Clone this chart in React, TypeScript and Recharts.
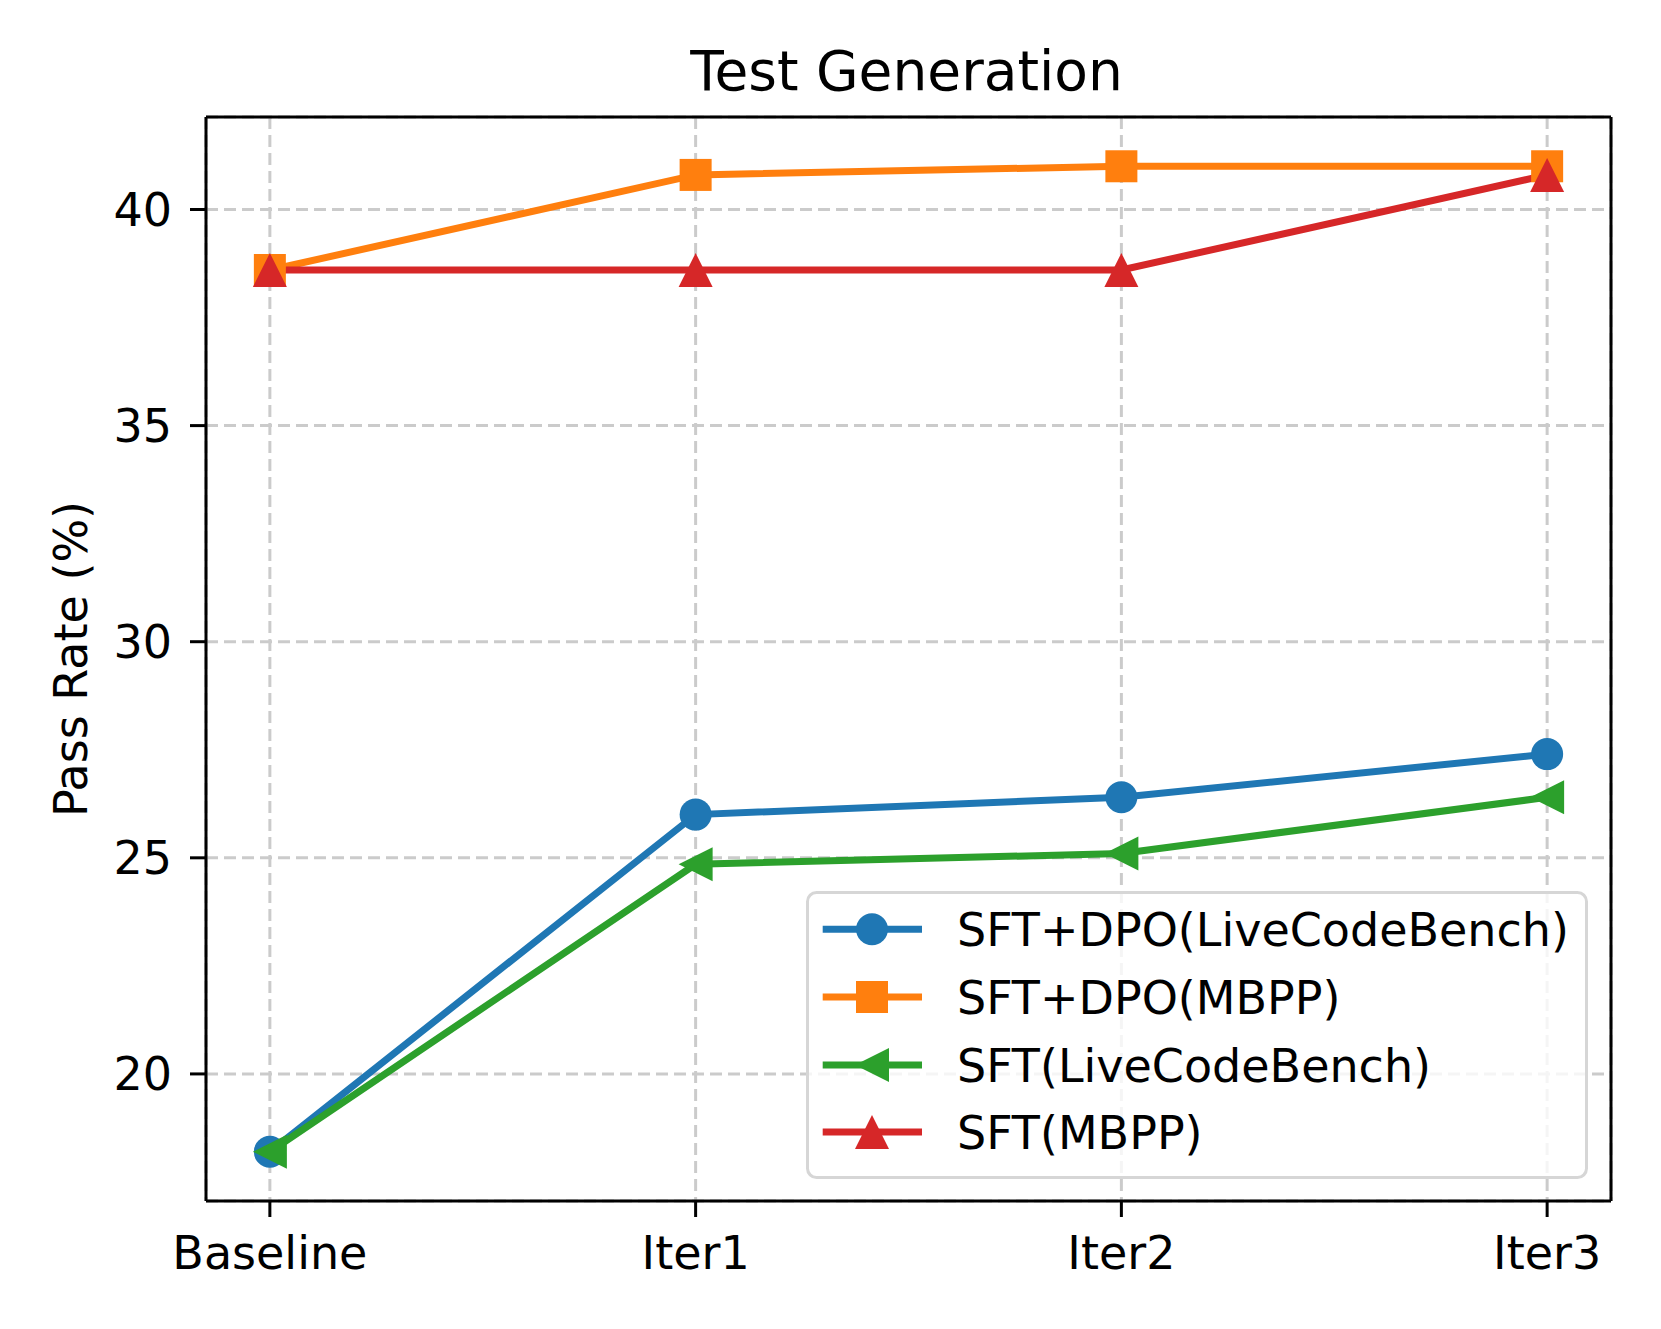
import React from 'react';
import { LineChart, Line, XAxis, YAxis, CartesianGrid, Legend, Label } from 'recharts';

const categories = ['Baseline', 'Iter1', 'Iter2', 'Iter3'];
const sftDpoLiveCodeBench = [18.2, 26.0, 26.4, 27.4];
const sftDpoMbpp = [38.6, 40.8, 41.0, 41.0];
const sftLiveCodeBench = [18.2, 24.85, 25.1, 26.4];
const sftMbpp = [38.6, 38.6, 38.6, 40.8];
const yTicks = [20, 25, 30, 35, 40];
const xTicks = [0, 1, 2, 3];

const FONT = "'DejaVu Sans', sans-serif";

type Shape = 'circle' | 'square' | 'left' | 'up';

const series: { key: string; name: string; color: string; shape: Shape }[] = [
  { key: 'a', name: 'SFT+DPO(LiveCodeBench)', color: '#1f77b4', shape: 'circle' },
  { key: 'b', name: 'SFT+DPO(MBPP)', color: '#ff7f0e', shape: 'square' },
  { key: 'c', name: 'SFT(LiveCodeBench)', color: '#2ca02c', shape: 'left' },
  { key: 'd', name: 'SFT(MBPP)', color: '#d62728', shape: 'up' },
];

const data = categories.map((name, i) => ({
  idx: i,
  name,
  a: sftDpoLiveCodeBench[i],
  b: sftDpoMbpp[i],
  c: sftLiveCodeBench[i],
  d: sftMbpp[i],
}));

function markerEl(shape: Shape, cx: number, cy: number, color: string, key?: any) {
  if (shape === 'circle') {
    return <circle key={key} cx={cx} cy={cy} r={16} fill={color} />;
  }
  if (shape === 'square') {
    return <rect key={key} x={cx - 16} y={cy - 16} width={32} height={32} fill={color} />;
  }
  if (shape === 'up') {
    const s = 17;
    return (
      <polygon
        key={key}
        points={`${cx},${cy - s} ${cx - s},${cy + s} ${cx + s},${cy + s}`}
        fill={color}
      />
    );
  }
  const s = 17;
  return (
    <polygon
      key={key}
      points={`${cx - s},${cy} ${cx + s},${cy - s} ${cx + s},${cy + s}`}
      fill={color}
    />
  );
}

const makeDot = (shape: Shape, color: string) => (props: any) => {
  const { cx, cy, index } = props;
  if (cx == null || cy == null) return <g key={`n-${index}`} />;
  return markerEl(shape, cx, cy, color, `${shape}-${index}`);
};

const LegendBox = () => {
  const rows = [38.3, 106, 174, 241];
  return (
    <svg width={782} height={288} style={{ display: 'block', overflow: 'visible' }}>
      <rect
        x={1.5}
        y={1.5}
        width={779}
        height={285}
        rx={9}
        ry={9}
        fill="rgba(255,255,255,0.8)"
        stroke="#d6d6d6"
        strokeWidth={3}
      />
      {series.map((s, i) => (
        <g key={s.key}>
          <line x1={16.7} x2={116} y1={rows[i]} y2={rows[i]} stroke={s.color} strokeWidth={7} />
          {markerEl(s.shape, 66, rows[i], s.color)}
          <text x={151} y={rows[i] + 16.8} fontSize={46} fontFamily={FONT} fill="#000">
            {s.name}
          </text>
        </g>
      ))}
    </svg>
  );
};

const tickStyle = { fill: '#000', fontSize: 46, fontFamily: FONT };

export default function App() {
  return (
    <div style={{ position: 'absolute', left: 0, top: 0, background: '#fff' }}>
      <LineChart
        width={1661}
        height={1329}
        data={data}
        margin={{ top: 107, right: 40, bottom: 68, left: 106 }}
      >
        <CartesianGrid
          stroke="#cbcbcb"
          strokeWidth={3}
          strokeDasharray="12 6"
          horizontal
          vertical
        />
        <XAxis
          dataKey="idx"
          type="number"
          domain={[-0.15, 3.15]}
          ticks={xTicks}
          interval={0}
          tickFormatter={(v: number) => categories[v]}
          height={60}
          tick={tickStyle}
          tickSize={16}
          tickMargin={19}
          tickLine={{ stroke: '#000', strokeWidth: 3 }}
          axisLine={{ stroke: '#000', strokeWidth: 3 }}
        />
        <XAxis
          xAxisId="top"
          orientation="top"
          dataKey="idx"
          type="number"
          domain={[-0.15, 3.15]}
          height={10}
          tick={false}
          tickLine={false}
          axisLine={{ stroke: '#000', strokeWidth: 3 }}
        >
          <Label
            content={(props: any) => {
              const vb = props.viewBox || {};
              return (
                <text
                  x={vb.x + vb.width / 2 - 2}
                  y={vb.y + vb.height - 27}
                  textAnchor="middle"
                  fontSize={55}
                  fontFamily={FONT}
                  fill="#000"
                >
                  Test Generation
                </text>
              );
            }}
          />
        </XAxis>
        <YAxis
          type="number"
          domain={[17.06, 42.14]}
          ticks={yTicks}
          interval={0}
          width={100}
          tick={tickStyle}
          tickSize={16}
          tickMargin={18}
          tickLine={{ stroke: '#000', strokeWidth: 3 }}
          axisLine={{ stroke: '#000', strokeWidth: 3 }}
        >
          <Label
            content={(props: any) => {
              const vb = props.viewBox || {};
              const cx = vb.x + vb.width - 119;
              const cy = vb.y + vb.height / 2;
              return (
                <text
                  x={cx}
                  y={cy}
                  transform={`rotate(-90, ${cx}, ${cy})`}
                  textAnchor="middle"
                  fontSize={46}
                  fontFamily={FONT}
                  fill="#000"
                >
                  Pass Rate (%)
                </text>
              );
            }}
          />
        </YAxis>
        <YAxis
          yAxisId="right"
          orientation="right"
          type="number"
          domain={[17.06, 42.14]}
          width={10}
          tick={false}
          tickLine={false}
          axisLine={{ stroke: '#000', strokeWidth: 3 }}
        />
        {series.map((s) => (
          <Line
            key={s.key}
            type="linear"
            dataKey={s.key}
            name={s.name}
            stroke={s.color}
            strokeWidth={7}
            dot={makeDot(s.shape, s.color)}
            activeDot={false}
            isAnimationActive={false}
          />
        ))}
        <Legend
          layout="vertical"
          align="center"
          verticalAlign="middle"
          content={() => <LegendBox />}
          wrapperStyle={{ left: 806, top: 891, width: 782, height: 288 }}
        />
      </LineChart>
    </div>
  );
}
